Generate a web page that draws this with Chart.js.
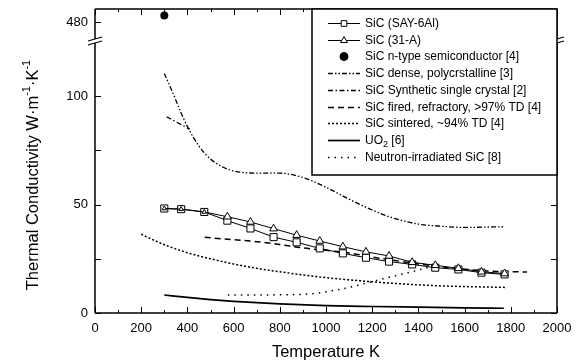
<!DOCTYPE html>
<html>
<head>
<meta charset="utf-8">
<script src="https://cdn.jsdelivr.net/npm/chart.js@4.4.1/dist/chart.umd.min.js"></script>
<style>
    html, body { margin: 0; padding: 0; background: #fff; }
</style>
</head>
<body>
<canvas id="chart" width="580" height="362"></canvas>
<script>
    // tick labels
    var xTickLabels = [0, 200, 400, 600, 800, 1000, 1200, 1400, 1600, 1800, 2000];
    var yTickLabels = [0, 50, 100];
    var yBreakTickLabels = [480];

    // SiC (SAY-6Al) and SiC (31-A)
    var sayTemps = [300, 373, 473, 573, 673, 773, 873, 973, 1073, 1173, 1273, 1373, 1473, 1573, 1673, 1773];
    var sayValues = [48.2, 47.9, 46.6, 42.6, 39.0, 35.0, 32.6, 29.8, 27.5, 25.5, 23.7, 22.4, 20.9, 20.1, 18.6, 17.8];
    var a31Temps = [300, 373, 473, 573, 673, 773, 873, 973, 1073, 1173, 1273, 1373, 1473, 1573, 1673, 1773];
    var a31Values = [48.2, 47.9, 46.6, 44.4, 42.0, 38.9, 35.9, 33.2, 30.6, 28.2, 26.3, 23.4, 22.0, 20.6, 19.0, 18.2];

    // SiC n-type semiconductor [4]
    var ntypeTemps = [300];
    var ntypeValues = [483];

    // SiC dense, polycrstalline [3]
    var denseTemps = [300, 335, 370, 400, 450, 500, 550, 600, 700, 800, 900, 1000, 1100, 1200, 1300, 1400, 1500, 1600, 1770];
    var denseValues = [110.5, 102, 93, 86, 77, 71, 67.5, 65.5, 64.5, 64.5, 62.5, 58, 52.5, 47.5, 43.5, 41, 40, 39.5, 39.8];

    // SiC Synthetic single crystal [2]
    var crystalTemps = [310, 410];
    var crystalValues = [90.5, 84.8];

    // SiC fired, refractory, >97% TD [4]
    var firedTemps = [475, 600, 700, 800, 900, 1000, 1100, 1200, 1300, 1400, 1500, 1600, 1700, 1870];
    var firedValues = [34.9, 33.8, 32.9, 31.6, 30.0, 28.9, 27.7, 25.8, 24.2, 22.6, 21.3, 20.2, 19.4, 18.9];

    // SiC sintered, ~94% TD [4]
    var sinteredTemps = [200, 300, 400, 500, 600, 700, 800, 900, 1000, 1100, 1200, 1300, 1400, 1500, 1600, 1780];
    var sinteredValues = [36.3, 31.5, 27.8, 25.0, 22.6, 20.6, 19.0, 17.6, 16.3, 15.3, 14.4, 13.6, 13.0, 12.5, 12.2, 11.8];

    // UO2 [6]
    var uo2Temps = [300, 400, 500, 600, 800, 1000, 1200, 1400, 1600, 1770];
    var uo2Values = [8.3, 7.2, 6.2, 5.4, 4.2, 3.4, 3.0, 2.7, 2.4, 2.2];

    // Neutron-irradiated SiC [8]
    var neutronTemps = [575, 700, 800, 900, 950, 1000, 1100, 1200, 1300, 1400, 1460];
    var neutronValues = [8.3, 8.3, 8.4, 8.6, 9.0, 9.8, 11.8, 14.5, 17.2, 19.8, 21.5];

    var FONT = '"Liberation Sans", Arial, Helvetica, sans-serif';

    function toPoints(xs, ys) {
        return xs.map(function (x, i) {
            return { x: x, y: ys[i] };
        });
    }

    function lineSet(label, xs, ys, dash, width, extra) {
        var ds = {
            label: label,
            data: toPoints(xs, ys),
            borderColor: '#000',
            backgroundColor: '#000',
            borderWidth: width,
            borderDash: dash,
            pointRadius: 0,
            fill: false,
            cubicInterpolationMode: 'monotone',
            yAxisID: 'y'
        };
        for (var k in extra) ds[k] = extra[k];
        return ds;
    }

    var datasets = [
        lineSet('SiC (SAY-6Al)', sayTemps, sayValues, [], 1, {
            pointStyle: 'rect', pointRadius: 5, pointBackgroundColor: '#fff',
            pointBorderColor: '#000', pointBorderWidth: 1, cubicInterpolationMode: 'default', tension: 0
        }),
        lineSet('SiC (31-A)', a31Temps, a31Values, [], 1, {
            pointStyle: 'triangle', pointBackgroundColor: '#fff',
            pointBorderColor: '#000', pointBorderWidth: 1, cubicInterpolationMode: 'default', tension: 0,
            order: -1,
            // where both samples coincide the triangle sits inside the square
            pointRadius: function (c) { return c.dataIndex < 3 ? 2.6 : 4.5; },
            legendRadius: 4.5
        }),
        lineSet('SiC n-type semiconductor [4]', ntypeTemps, ntypeValues, [], 0, {
            showLine: false, pointStyle: 'circle', pointRadius: 4, yAxisID: 'y2'
        }),
        lineSet('SiC dense, polycrstalline [3]', denseTemps, denseValues, [5, 2, 1.5, 2, 1.5, 2], 1.3),
        lineSet('SiC Synthetic single crystal [2]', crystalTemps, crystalValues, [5, 2.5, 1.5, 2.5], 1.3),
        lineSet('SiC fired, refractory, >97% TD [4]', firedTemps, firedValues, [6, 4], 1.5),
        lineSet('SiC sintered, ~94% TD [4]', sinteredTemps, sinteredValues, [2, 2], 1.5),
        lineSet('UO2 [6]', uo2Temps, uo2Values, [], 1.7),
        lineSet('Neutron-irradiated SiC [8]', neutronTemps, neutronValues, [1.5, 5], 1.5)
    ];

    function onlyTicks(values) {
        return function (scale) {
            scale.ticks = values.map(function (v) { return { value: v }; });
        };
    }

    function fixSize(w, h) {
        return function (s) {
            if (w) s.width = w;
            if (h) s.height = h;
            s.paddingTop = 0;
            s.paddingBottom = 0;
            s.paddingLeft = 0;
            s.paddingRight = 0;
        };
    }

    // frame, inward tick marks, axis breaks, y title and the boxed legend
    var decorPlugin = {
        id: 'decor',
        afterDraw: function (chart) {
            var ctx = chart.ctx;
            var a = chart.chartArea;
            var xs = chart.scales.x;
            var ys = chart.scales.y;
            var y2s = chart.scales.y2;
            var breakY = ys.top - 1;

            ctx.save();
            ctx.strokeStyle = '#000';
            ctx.lineWidth = 1;

            // tick marks pointing inward
            ctx.beginPath();
            for (var t = 0; t <= 2000; t += 100) {
                var px = Math.round(xs.getPixelForValue(t)) + 0.5;
                var len = t % 200 === 0 ? 6 : 3;
                ctx.moveTo(px, a.bottom);
                ctx.lineTo(px, a.bottom - len);
                ctx.moveTo(px, a.top);
                ctx.lineTo(px, a.top + len);
            }
            for (var v = 0; v <= 100; v += 25) {
                var py = Math.round(ys.getPixelForValue(v)) + 0.5;
                ctx.moveTo(a.left, py);
                ctx.lineTo(a.left + 6, py);
                ctx.moveTo(a.right, py);
                ctx.lineTo(a.right - 6, py);
            }
            yBreakTickLabels.forEach(function (v) {
                var py = Math.round(y2s.getPixelForValue(v)) + 0.5;
                ctx.moveTo(a.left, py);
                ctx.lineTo(a.left + 6, py);
            });
            ctx.stroke();

            // frame with gaps at the break
            ctx.lineWidth = 1.5;
            ctx.beginPath();
            ctx.moveTo(a.left, a.top);
            ctx.lineTo(a.right, a.top);
            ctx.moveTo(a.left, a.bottom);
            ctx.lineTo(a.right, a.bottom);
            [a.left, a.right].forEach(function (x) {
                ctx.moveTo(x, a.bottom);
                ctx.lineTo(x, breakY + 2);
                ctx.moveTo(x, breakY - 2);
                ctx.lineTo(x, a.top);
            });
            ctx.stroke();
            ctx.lineWidth = 1.2;
            ctx.beginPath();
            [a.left, a.right].forEach(function (x) {
                ctx.moveTo(x - 7, breakY + 4);
                ctx.lineTo(x + 7, breakY);
                ctx.moveTo(x - 7, breakY);
                ctx.lineTo(x + 7, breakY - 4);
            });
            ctx.stroke();

            // y axis title with superscripts
            ctx.translate(38, 175);
            ctx.rotate(-Math.PI / 2);
            ctx.fillStyle = '#000';
            ctx.textBaseline = 'alphabetic';
            var parts = [
                ['Thermal Conductivity W\u00b7m', 16.5, 0],
                ['-1', 11, -8],
                ['\u00b7K', 16.5, 0],
                ['-1', 11, -8]
            ];
            var total = 0;
            parts.forEach(function (p) {
                ctx.font = p[1] + 'px ' + FONT;
                total += ctx.measureText(p[0]).width;
            });
            var cx = -total / 2;
            parts.forEach(function (p) {
                ctx.font = p[1] + 'px ' + FONT;
                ctx.fillText(p[0], cx, p[2]);
                cx += ctx.measureText(p[0]).width;
            });
            ctx.restore();

            // legend box
            ctx.save();
            var box = { left: 312, top: a.top, right: a.right, bottom: 175 };
            ctx.fillStyle = '#fff';
            ctx.fillRect(box.left, box.top, box.right - box.left, box.bottom - box.top);
            ctx.strokeStyle = '#000';
            ctx.lineWidth = 1.5;
            ctx.strokeRect(box.left, box.top, box.right - box.left, box.bottom - box.top);

            ctx.font = '12px ' + FONT;
            ctx.textBaseline = 'middle';
            chart.data.datasets.forEach(function (ds, i) {
                var y = Math.round(23 + i * 16.7) + 0.5;
                var x0 = 328, x1 = 360, xm = (x0 + x1) / 2;
                ctx.strokeStyle = '#000';
                if (ds.showLine !== false) {
                    ctx.lineWidth = ds.borderWidth;
                    ctx.setLineDash(ds.borderDash || []);
                    ctx.beginPath();
                    ctx.moveTo(x0, y);
                    ctx.lineTo(x1, y);
                    ctx.stroke();
                    ctx.setLineDash([]);
                }
                var hasPoint = typeof ds.pointRadius === 'function' || ds.pointRadius > 0;
                if (hasPoint) {
                    ctx.fillStyle = ds.pointBackgroundColor || '#000';
                    ctx.lineWidth = 1;
                    Chart.helpers.drawPoint(ctx, {
                        pointStyle: ds.pointStyle,
                        radius: 4,
                        borderWidth: 1,
                        rotation: 0
                    }, xm, y);
                }
                ctx.fillStyle = '#000';
                var label = ds.label;
                if (label.indexOf('UO2') === 0) {
                    ctx.fillText('UO', 365, y);
                    var w = ctx.measureText('UO').width;
                    ctx.font = '9px ' + FONT;
                    ctx.fillText('2', 365 + w, y + 4);
                    var w2 = ctx.measureText('2').width;
                    ctx.font = '12px ' + FONT;
                    ctx.fillText(' [6]', 365 + w + w2, y);
                } else {
                    ctx.fillText(label, 365, y);
                }
            });
            ctx.restore();
        }
    };

    var plainTick = function (v) { return String(v); };

    var chart = new Chart(document.getElementById('chart'), {
        type: 'line',
        data: { datasets: datasets },
        options: {
            responsive: false,
            animation: false,
            devicePixelRatio: 1,
            layout: { padding: { top: 9, right: 23, left: 0, bottom: 0 } },
            plugins: {
                legend: { display: false },
                tooltip: { enabled: false }
            },
            scales: {
                x: {
                    type: 'linear',
                    position: 'bottom',
                    min: 0,
                    max: 2000,
                    afterBuildTicks: onlyTicks(xTickLabels),
                    afterFit: fixSize(0, 49),
                    grid: { display: false, drawTicks: false },
                    border: { display: false },
                    ticks: { color: '#000', font: { family: FONT, size: 13 }, padding: 8, maxRotation: 0, autoSkip: false, callback: plainTick },
                    title: {
                        display: true,
                        text: 'Temperature K',
                        color: '#000',
                        font: { family: FONT, size: 16.5 },
                        padding: { top: 0, bottom: 0 }
                    }
                },
                y: {
                    type: 'linear',
                    position: 'left',
                    stack: 'k',
                    stackWeight: 271,
                    min: 0,
                    max: 125,
                    afterBuildTicks: onlyTicks(yTickLabels),
                    afterFit: fixSize(95, 0),
                    grid: { display: false, drawTicks: false },
                    border: { display: false },
                    ticks: { color: '#000', font: { family: FONT, size: 13 }, padding: 7, callback: plainTick }
                },
                y2: {
                    type: 'linear',
                    position: 'left',
                    stack: 'k',
                    stackWeight: 33,
                    min: 470.8,
                    max: 486,
                    afterBuildTicks: onlyTicks(yBreakTickLabels),
                    afterFit: fixSize(95, 0),
                    grid: { display: false, drawTicks: false },
                    border: { display: false },
                    ticks: { color: '#000', font: { family: FONT, size: 13 }, padding: 7, callback: plainTick }
                }
            }
        },
        plugins: [decorPlugin]
    });
</script>
</body>
</html>
